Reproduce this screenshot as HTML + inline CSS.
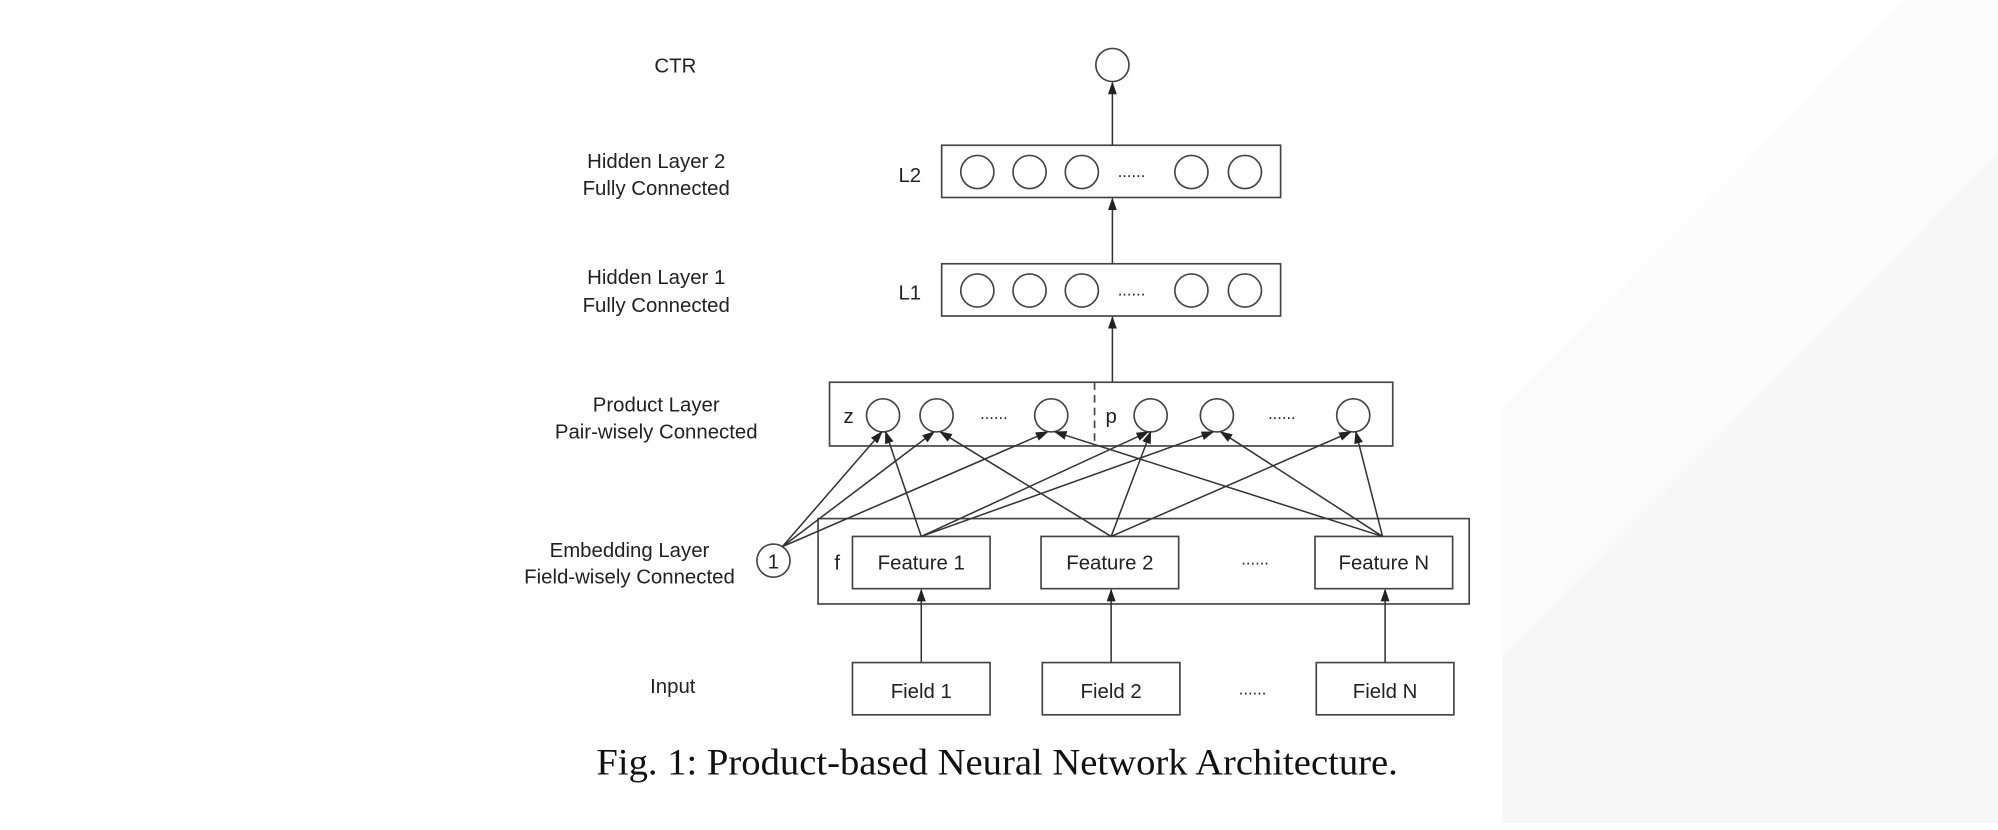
<!DOCTYPE html>
<html><head><meta charset="utf-8"><style>
html,body{margin:0;padding:0;background:#fff;}
svg{display:block;}
text{font-family:"Liberation Sans",sans-serif;fill:#222;}
</style></head><body>
<svg width="1998" height="830" viewBox="0 0 1568 651.4" preserveAspectRatio="none" xmlns="http://www.w3.org/2000/svg">
<defs>
<marker id="a" markerWidth="10" markerHeight="10" refX="9" refY="4.5" orient="auto" markerUnits="userSpaceOnUse">
<path d="M0,1 L10,4.5 L0,8 Z" fill="#222"/></marker>
</defs>
<polygon points="1179,320 1495,0 1568,0 1568,646 1179,646" fill="#fbfbfb"/>
<polygon points="1179,515 1568,120 1568,646 1179,646" fill="#f7f7f7"/>
<g stroke="#444" stroke-width="1.3" fill="none">
<circle cx="873" cy="51" r="13"/>
<rect x="739" y="114" width="266" height="41"/>
<rect x="739" y="207" width="266" height="41"/>
<rect x="651" y="300" width="442" height="50"/>
<line x1="859" y1="300" x2="859" y2="350" stroke-dasharray="6,4"/>
<rect x="642" y="407" width="511" height="67"/>
<rect x="669" y="421" width="108" height="41"/>
<rect x="817" y="421" width="108" height="41"/>
<rect x="1032" y="421" width="108" height="41"/>
<rect x="669" y="520" width="108" height="41"/>
<rect x="818" y="520" width="108" height="41"/>
<rect x="1033" y="520" width="108" height="41"/>
<circle cx="607" cy="440" r="13"/>
<g>
<circle cx="767" cy="135" r="13"/><circle cx="808" cy="135" r="13"/><circle cx="849" cy="135" r="13"/><circle cx="935" cy="135" r="13"/><circle cx="977" cy="135" r="13"/>
<circle cx="767" cy="228" r="13"/><circle cx="808" cy="228" r="13"/><circle cx="849" cy="228" r="13"/><circle cx="935" cy="228" r="13"/><circle cx="977" cy="228" r="13"/>
<circle cx="693" cy="326" r="13"/><circle cx="735" cy="326" r="13"/><circle cx="825" cy="326" r="13"/>
<circle cx="903" cy="326" r="13"/><circle cx="955" cy="326" r="13"/><circle cx="1062" cy="326" r="13"/>
</g>
</g>
<g stroke="#333" stroke-width="1.2" marker-end="url(#a)">
<line x1="873" y1="114" x2="873" y2="65"/>
<line x1="873" y1="207" x2="873" y2="156"/>
<line x1="873" y1="300" x2="873" y2="249"/>
<line x1="723" y1="520" x2="723" y2="463"/>
<line x1="872" y1="520" x2="872" y2="463"/>
<line x1="1087" y1="520" x2="1087" y2="463"/>
<line x1="614" y1="429" x2="692" y2="339"/>
<line x1="614" y1="429" x2="733" y2="339"/>
<line x1="614" y1="429" x2="822" y2="339"/>
<line x1="723" y1="421" x2="695" y2="339"/>
<line x1="723" y1="421" x2="901" y2="339"/>
<line x1="723" y1="421" x2="952" y2="339"/>
<line x1="872" y1="421" x2="738" y2="339"/>
<line x1="872" y1="421" x2="903" y2="339"/>
<line x1="872" y1="421" x2="1060" y2="339"/>
<line x1="1085" y1="421" x2="828" y2="339"/>
<line x1="1085" y1="421" x2="958" y2="339"/>
<line x1="1085" y1="421" x2="1064" y2="339"/>
</g>
<g font-size="16" text-anchor="middle">
<text x="530" y="57">CTR</text>
<text x="515" y="132">Hidden Layer 2</text>
<text x="515" y="153">Fully Connected</text>
<text x="515" y="223">Hidden Layer 1</text>
<text x="515" y="245">Fully Connected</text>
<text x="515" y="323">Product Layer</text>
<text x="515" y="344">Pair-wisely Connected</text>
<text x="494" y="437">Embedding Layer</text>
<text x="494" y="458">Field-wisely Connected</text>
<text x="528" y="544">Input</text>
<text x="714" y="143">L2</text>
<text x="714" y="235">L1</text>
<text x="666" y="332">z</text>
<text x="872" y="332">p</text>
<text x="657" y="447">f</text>
<text x="607" y="446">1</text>
<text x="723" y="447">Feature 1</text>
<text x="871" y="447">Feature 2</text>
<text x="1086" y="447">Feature N</text>
<text x="723" y="548">Field 1</text>
<text x="872" y="548">Field 2</text>
<text x="1087" y="548">Field N</text>
</g>
<g font-size="13" text-anchor="middle">
<text x="888" y="139">......</text>
<text x="888" y="232">......</text>
<text x="780" y="329">......</text>
<text x="1006" y="329">......</text>
<text x="985" y="443">......</text>
<text x="983" y="545">......</text>
</g>
<text x="468" y="608" font-size="29" textLength="629" lengthAdjust="spacingAndGlyphs" style="font-family:'Liberation Serif',serif;fill:#111">Fig. 1: Product-based Neural Network Architecture.</text>
</svg>
</body></html>
